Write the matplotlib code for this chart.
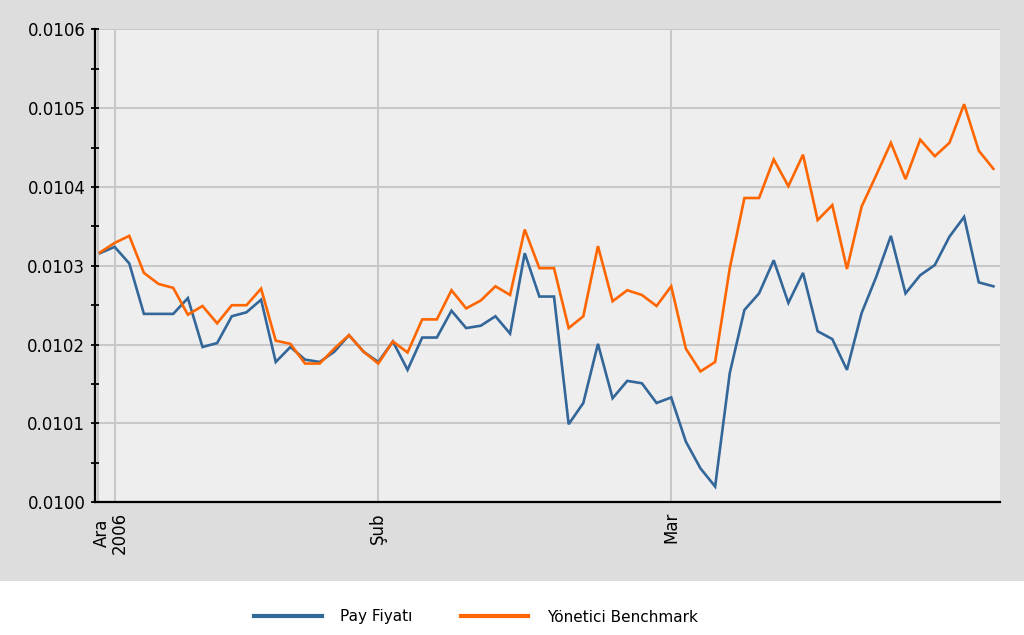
import matplotlib
matplotlib.use("Agg")
import matplotlib.pyplot as plt
import matplotlib.transforms as mtransforms
from matplotlib.patches import Rectangle
import numpy as np

# ---- data ----
pay_fiyati = [
    0.010316, 0.010324, 0.010303, 0.010239, 0.010239, 0.010239, 0.010259, 0.010197,
    0.010202, 0.010236, 0.010241, 0.010257, 0.010178, 0.010197, 0.010181, 0.010178,
    0.010191, 0.010212, 0.010191, 0.010178, 0.010204, 0.010168, 0.010209, 0.010209,
    0.010243, 0.010221, 0.010224, 0.010236, 0.010214, 0.010316, 0.010261, 0.010261,
    0.010099, 0.010126, 0.010201, 0.010132, 0.010154, 0.010151, 0.010126, 0.010133,
    0.010077, 0.010043, 0.010020, 0.010164, 0.010244, 0.010265, 0.010307, 0.010253,
    0.010291, 0.010217, 0.010207, 0.010168, 0.010240, 0.010286, 0.010338, 0.010265,
    0.010288, 0.010301, 0.010337, 0.010362, 0.010279, 0.010274,
]
benchmark = [
    0.010317, 0.010329, 0.010338, 0.010291, 0.010277, 0.010272, 0.010238, 0.010249,
    0.010227, 0.010250, 0.010250, 0.010271, 0.010205, 0.010201, 0.010176, 0.010176,
    0.010195, 0.010212, 0.010191, 0.010176, 0.010204, 0.010190, 0.010232, 0.010232,
    0.010269, 0.010246, 0.010256, 0.010274, 0.010263, 0.010346, 0.010297, 0.010297,
    0.010221, 0.010236, 0.010325, 0.010255, 0.010269, 0.010263, 0.010249, 0.010274,
    0.010195, 0.010166, 0.010178, 0.010297, 0.010386, 0.010386, 0.010435, 0.010401,
    0.010441, 0.010358, 0.010377, 0.010296, 0.010375, 0.010415, 0.010456, 0.010410,
    0.010460, 0.010439, 0.010456, 0.010505, 0.010446, 0.010423,
]
series_names = ["Pay Fiyatı", "Yönetici Benchmark"]
month_labels = ["", "Ara\n2006", "Şub", "Mar"]
month_positions = [-0.15, 1, 19, 39]
y_ticks = [0.0100, 0.0101, 0.0102, 0.0103, 0.0104, 0.0105, 0.0106]

plt.rcParams['font.family'] = ['DejaVu Sans']

fig = plt.figure(figsize=(10.24, 6.35), dpi=100, facecolor="white")
fig.patches.append(Rectangle((0, 1 - 580.5 / 635), 1, 580.5 / 635,
                             transform=fig.transFigure, facecolor="#dddddd",
                             edgecolor="none", zorder=-10))

ax = fig.add_axes([95 / 1024, 1 - 502.3 / 635, (1000 - 95) / 1024, (502.3 - 29.3) / 635])
ax.set_facecolor("#eeeeee")

x = np.arange(len(pay_fiyati))
l1, = ax.plot(x, pay_fiyati, color="#336699", lw=1.9, solid_joinstyle="miter", zorder=3)
l2, = ax.plot(x, benchmark, color="#ff6600", lw=1.9, solid_joinstyle="miter", zorder=4)

ax.set_xlim(-0.34, 61.45)
ax.set_ylim(0.0100, 0.0106)

ax.set_yticks(y_ticks)
ax.set_yticklabels([f"{v:.4f}" for v in y_ticks], fontsize=12)
ax.set_yticks([v + 0.00005 for v in y_ticks[:-1]], minor=True)
ax.tick_params(axis="y", which="both", direction="inout", length=6, width=1.3,
               pad=4, colors="black")

ax.set_xticks(month_positions)
ax.set_xticklabels(month_labels, rotation=90, fontsize=12)
ax.tick_params(axis="x", length=0, pad=7)
# tighten and shift the first month label slightly left
lbl = ax.get_xticklabels()[1]
lbl.set_linespacing(0.95)
lbl.set_transform(lbl.get_transform() +
                  mtransforms.ScaledTranslation(-4 / 100, 0, fig.dpi_scale_trans))

ax.grid(True, which="major", color="#c8c8c8", lw=1.5, zorder=1)
ax.set_axisbelow(True)

for s in ["top", "right"]:
    ax.spines[s].set_visible(False)
for s in ["left", "bottom"]:
    ax.spines[s].set_linewidth(1.6)
    ax.spines[s].set_color("black")

leg = fig.legend([l1, l2], series_names, loc="center", ncol=2,
                 bbox_to_anchor=(476 / 1024, 1 - 617 / 635), frameon=False,
                 fontsize=11, handlelength=4.4, handletextpad=1.2, columnspacing=3.2)
for h in leg.legend_handles:
    h.set_linewidth(3)

fig.savefig("out.png", dpi=100, facecolor="white")
